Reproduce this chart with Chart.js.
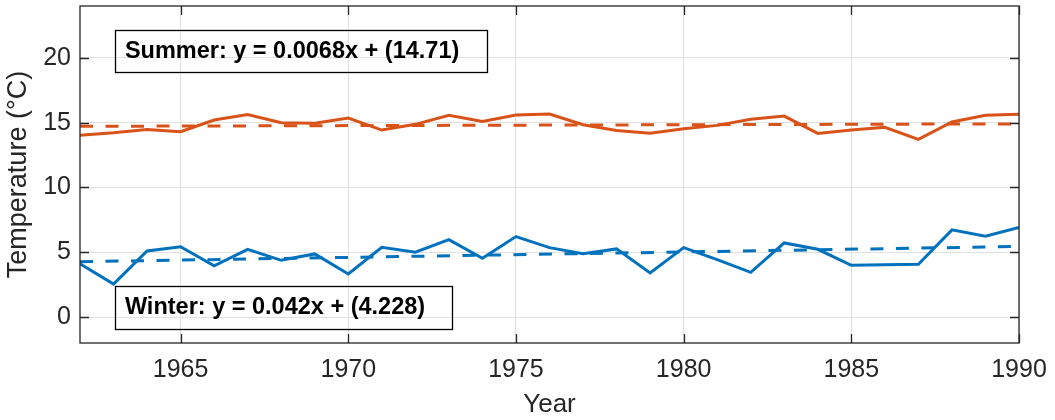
<!DOCTYPE html>
<html>
<head>
<meta charset="utf-8">
<script src="https://cdn.jsdelivr.net/npm/chart.js@4.4.1/dist/chart.umd.min.js"></script>
<style>
  html, body { margin: 0; padding: 0; background: #ffffff; }
  #wrap { width: 1055px; height: 420px; }
</style>
</head>
<body>
<div id="wrap"><canvas id="chart" width="1055" height="420"></canvas></div>
<script>
// Seasonal mean temperature per year
const years = [1962, 1963, 1964, 1965, 1966, 1967, 1968, 1969, 1970, 1971,
               1972, 1973, 1974, 1975, 1976, 1977, 1978, 1979, 1980, 1981,
               1982, 1983, 1984, 1985, 1986, 1987, 1988, 1989, 1990];
const summerTemp = [14.02, 14.22, 14.48, 14.30, 15.20, 15.62, 15.00, 14.95, 15.36, 14.43,
                    14.87, 15.57, 15.10, 15.59, 15.67, 14.84, 14.40, 14.19, 14.53, 14.79,
                    15.26, 15.51, 14.17, 14.43, 14.64, 13.71, 15.05, 15.57, 15.64];
const winterTemp = [4.12, 2.54, 5.10, 5.43, 3.96, 5.23, 4.38, 4.87, 3.32, 5.39,
                    5.00, 5.98, 4.53, 6.21, 5.36, 4.89, 5.26, 3.40, 5.36, 4.43,
                    3.45, 5.72, 5.23, 3.99, 4.04, 4.07, 6.73, 6.24, 6.91];

// Linear fits [slope, intercept], x = 1 .. number of years
const summerFit = [0.0068, 14.71];
const winterFit = [0.042, 4.228];
const summerLabel = 'Summer: y = 0.0068x + (14.71)';
const winterLabel = 'Winter: y = 0.042x + (4.228)';

// Axis ticks
const xTickValues = [1965, 1970, 1975, 1980, 1985, 1990];
const yTickValues = [0, 5, 10, 15, 20];

const BLUE = '#0072BD';
const ORANGE = '#D95319';
const AXIS = '#262626';
const GRID = '#e0e0e0';
const FONT = "'Liberation Sans', Arial, Helvetica, sans-serif";

function series(values) {
  return years.map((yr, i) => ({ x: yr, y: values[i] }));
}
function fitLine(fit) {
  const n = years.length;
  return [
    { x: years[0], y: fit[0] * 1 + fit[1] },
    { x: years[n - 1], y: fit[0] * n + fit[1] }
  ];
}

// Equation text boxes, placed in data coordinates
const equationBoxes = [
  { text: summerLabel, x0: 1963.04, x1: 1974.12, yTop: 22.18, yBottom: 18.97 },
  { text: winterLabel, x0: 1963.04, x1: 1973.08, yTop: 2.43, yBottom: -0.87 }
];

const framePlugin = {
  id: 'frame',
  afterDraw(chart) {
    const { ctx, chartArea: a, scales: { x, y } } = chart;
    const tick = 9;
    ctx.save();
    ctx.strokeStyle = AXIS;
    ctx.lineWidth = 1.3;
    ctx.beginPath();
    xTickValues.forEach(v => {
      const px = Math.round(x.getPixelForValue(v)) + 0.5;
      ctx.moveTo(px, a.bottom); ctx.lineTo(px, a.bottom - tick);
      ctx.moveTo(px, a.top); ctx.lineTo(px, a.top + tick);
    });
    yTickValues.forEach(v => {
      const py = Math.round(y.getPixelForValue(v)) + 0.5;
      ctx.moveTo(a.left, py); ctx.lineTo(a.left + tick, py);
      ctx.moveTo(a.right, py); ctx.lineTo(a.right - tick, py);
    });
    ctx.stroke();
    ctx.strokeRect(a.left, a.top, a.right - a.left, a.bottom - a.top);
    ctx.restore();
  }
};

const equationPlugin = {
  id: 'equations',
  afterDatasetsDraw(chart) {
    const { ctx, scales: { x, y } } = chart;
    ctx.save();
    equationBoxes.forEach(b => {
      const l = x.getPixelForValue(b.x0);
      const r = x.getPixelForValue(b.x1);
      const t = y.getPixelForValue(b.yTop);
      const btm = y.getPixelForValue(b.yBottom);
      ctx.strokeStyle = '#000000';
      ctx.lineWidth = 1.3;
      ctx.strokeRect(Math.round(l) + 0.5, Math.round(t) + 0.5, Math.round(r - l), Math.round(btm - t));
      ctx.fillStyle = '#000000';
      ctx.font = 'bold 23.5px ' + FONT;
      ctx.textAlign = 'left';
      ctx.textBaseline = 'alphabetic';
      ctx.fillText(b.text, l + 10, (t + btm) / 2 + 7.5);
    });
    ctx.restore();
  }
};

new Chart(document.getElementById('chart'), {
  type: 'line',
  data: {
    datasets: [
      { label: 'Summer', data: series(summerTemp), borderColor: ORANGE, borderWidth: 3, pointRadius: 0, tension: 0, fill: false },
      { label: 'Winter', data: series(winterTemp), borderColor: BLUE, borderWidth: 3, pointRadius: 0, tension: 0, fill: false },
      { label: 'Summer fit', data: fitLine(summerFit), borderColor: ORANGE, borderWidth: 3, borderDash: [13, 12.5], pointRadius: 0, fill: false },
      { label: 'Winter fit', data: fitLine(winterFit), borderColor: BLUE, borderWidth: 3, borderDash: [13, 12.5], pointRadius: 0, fill: false }
    ]
  },
  options: {
    responsive: false,
    devicePixelRatio: 1,
    animation: false,
    layout: { padding: { left: 0, right: 36, top: 6, bottom: 0 } },
    plugins: { legend: { display: false }, tooltip: { enabled: false } },
    scales: {
      x: {
        type: 'linear',
        min: 1962,
        max: 1990,
        afterBuildTicks: s => { s.ticks = xTickValues.map(v => ({ value: v })); },
        afterFit: s => { s.height = 77; s.paddingLeft = 0; s.paddingRight = 0; },
        grid: { color: GRID, lineWidth: 1, drawTicks: false },
        border: { display: false },
        ticks: { color: AXIS, padding: 12, maxRotation: 0, font: { family: FONT, size: 25 }, callback: v => String(v) },
        title: { display: true, text: 'Year', color: AXIS, font: { family: FONT, size: 26, lineHeight: 1.2 }, padding: { top: 0, bottom: 0 } }
      },
      y: {
        type: 'linear',
        min: -2,
        max: 24,
        afterBuildTicks: s => { s.ticks = yTickValues.map(v => ({ value: v })); },
        afterFit: s => { s.width = 80; s.paddingTop = 0; s.paddingBottom = 0; },
        grid: { color: GRID, lineWidth: 1, drawTicks: false },
        border: { display: false },
        ticks: { color: AXIS, padding: 9, font: { family: FONT, size: 25 }, callback: v => String(v) },
        title: { display: true, text: 'Temperature (°C)', color: AXIS, font: { family: FONT, size: 27, lineHeight: 1.2 }, padding: { top: 2, bottom: 0 } }
      }
    }
  },
  plugins: [framePlugin, equationPlugin]
});
</script>
</body>
</html>
